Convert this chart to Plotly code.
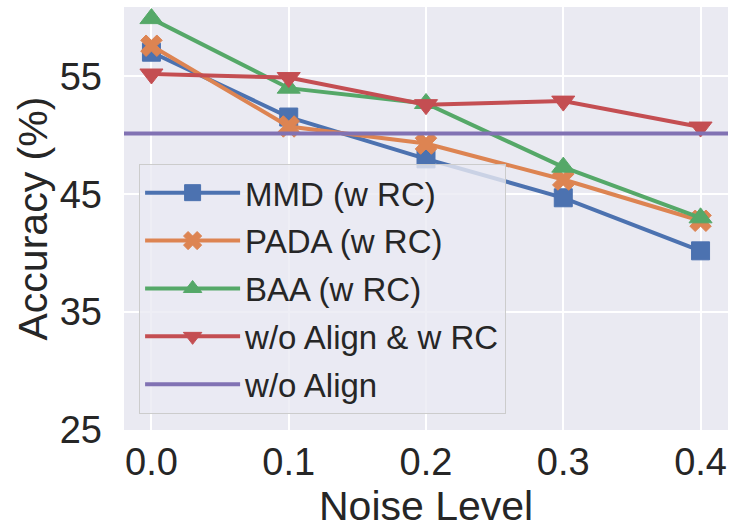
import plotly.graph_objects as go

noise_levels = [0.0, 0.1, 0.2, 0.3, 0.4]
mmd_rc = [57.05, 51.55, 48.0, 44.7, 40.2]
pada_rc = [57.6, 50.75, 49.3, 46.25, 42.75]
baa_rc = [59.9, 54.0, 52.7, 47.3, 43.0]
noalign_rc = [55.2, 54.9, 52.6, 52.9, 50.7]
noalign_baseline = 50.15

series_names = ["MMD (w RC)", "PADA (w RC)", "BAA (w RC)", "w/o Align & w RC"]
series_values = [mmd_rc, pada_rc, baa_rc, noalign_rc]
series_colors = ["#4C72B0", "#DD8452", "#55A868", "#C44E52"]
series_symbols = ["square", "x", "triangle-up", "triangle-down"]
series_sizes = [18, 19, 20, 20]
baseline_name = "w/o Align"
baseline_color = "#8172B3"

y_ticks = [25, 35, 45, 55]
x_range = [-0.02, 0.42]
y_range = [25, 60.885]
x_title = "Noise Level"
y_title = "Accuracy (%)"

FONT = "Liberation Sans, Arial, sans-serif"
TXT = "#262626"

fig = go.Figure()
for i, (name, vals) in enumerate(zip(series_names, series_values)):
    fig.add_trace(go.Scatter(
        x=noise_levels, y=vals, name=name, mode="lines+markers",
        line=dict(color=series_colors[i], width=4),
        marker=dict(symbol=series_symbols[i], size=series_sizes[i],
                    color=series_colors[i],
                    line=dict(color=series_colors[i], width=1)),
        legendgroup=f"g{i}",
    ))
fig.add_trace(go.Scatter(
    x=x_range, y=[noalign_baseline, noalign_baseline], name=baseline_name,
    mode="lines", line=dict(color=baseline_color, width=4),
    legendgroup="g4",
))

fig.update_layout(
    template="none",
    width=730, height=525,
    margin=dict(l=124, r=2, t=7, b=95, autoexpand=False),
    paper_bgcolor="white", plot_bgcolor="#EAEAF2",
    font=dict(family=FONT, color=TXT, size=38),
    showlegend=True,
    legend=dict(
        x=0.025, y=0.6295, xanchor="left", yanchor="top",
        bgcolor="rgba(234,234,242,0.8)", bordercolor="#cccccc", borderwidth=1,
        font=dict(family=FONT, size=33, color=TXT),
        itemwidth=95, tracegroupgap=2,
    ),
    xaxis=dict(
        automargin=False,
        range=x_range, tickvals=noise_levels, tickformat=".1f",
        showgrid=True, gridcolor="white", gridwidth=1.6, zeroline=False,
        showline=False, ticks="", ticklabelstandoff=6,
        tickfont=dict(size=38),
    ),
    yaxis=dict(
        automargin=False,
        range=y_range, tickvals=y_ticks,
        showgrid=True, gridcolor="white", gridwidth=1.6, zeroline=False,
        showline=False, ticks="", ticklabelstandoff=21,
        tickfont=dict(size=38),
    ),
    annotations=[
        dict(text=x_title, xref="paper", yref="paper", x=0.5, y=-0.18,
             xanchor="center", yanchor="middle", showarrow=False,
             font=dict(family=FONT, size=41, color=TXT)),
        dict(text=y_title, xref="paper", yref="paper", x=-0.1507, y=0.5,
             xanchor="center", yanchor="middle", showarrow=False, textangle=-90,
             font=dict(family=FONT, size=41, color=TXT)),
    ],
)

fig.write_html(
    "out.html",
    config={"displayModeBar": False},
    post_script="document.body.style.margin='0';document.body.style.padding='0';",
)
